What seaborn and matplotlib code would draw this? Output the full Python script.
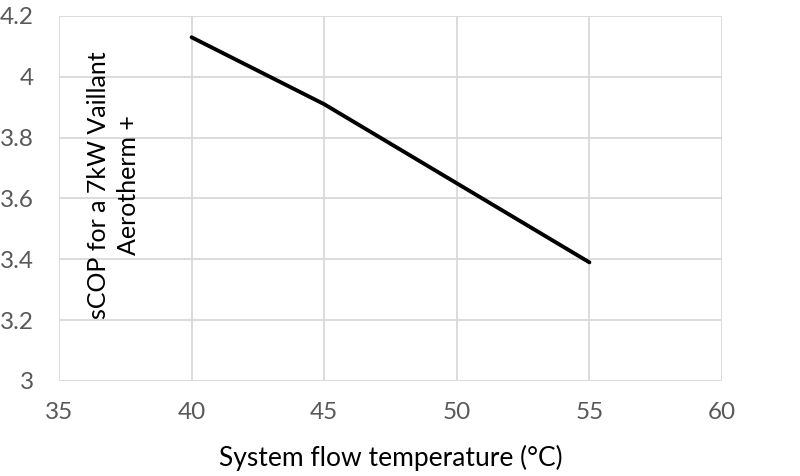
import matplotlib
matplotlib.use("Agg")
import matplotlib.pyplot as plt
import seaborn as sns
import pandas as pd

flow_temp = [40, 45, 50, 55]
scop = [4.13, 3.91, 3.65, 3.39]
x_ticks = [35, 40, 45, 50, 55, 60]
y_ticks = [3, 3.2, 3.4, 3.6, 3.8, 4, 4.2]
y_tick_labels = ["3", "3.2", "3.4", "3.6", "3.8", "4", "4.2"]

sns.set_style("whitegrid")
plt.rcParams["font.family"] = ["Lato", "DejaVu Sans"]

df = pd.DataFrame({"temp": flow_temp, "scop": scop})

fig = plt.figure(figsize=(8, 4.76), dpi=100)
ax = fig.add_axes([0.07375, 0.1996, 0.82875, 0.7668])
sns.lineplot(data=df, x="temp", y="scop", ax=ax, color="black", linewidth=2.8)

ax.set_xlim(35, 60)
ax.set_ylim(3, 4.2)
ax.set_xticks(x_ticks)
ax.set_xticklabels([str(t) for t in x_ticks])
ax.set_yticks(y_ticks)
ax.set_yticklabels(y_tick_labels)
ax.tick_params(axis="x", labelsize=17.5, colors="#595959", pad=15, length=0)
ax.tick_params(axis="y", labelsize=17.5, colors="#595959", pad=18, length=0)
ax.grid(True, color="#d9d9d9", linewidth=1.3)
for s in ax.spines.values():
    s.set_visible(False)

ax.set_xlabel("System flow temperature (°C)", fontsize=19, color="black", labelpad=16)
ax.set_ylabel("sCOP for a 7kW Vaillant\nAerotherm +", fontsize=18, color="black",
              multialignment="center", linespacing=1.35)
ax.yaxis.set_label_coords(0.082, 0.537)
ax.yaxis.label.set_va("center")
ax.yaxis.label.set_ha("center")

fig.savefig("out.png", dpi=100, facecolor="white")
